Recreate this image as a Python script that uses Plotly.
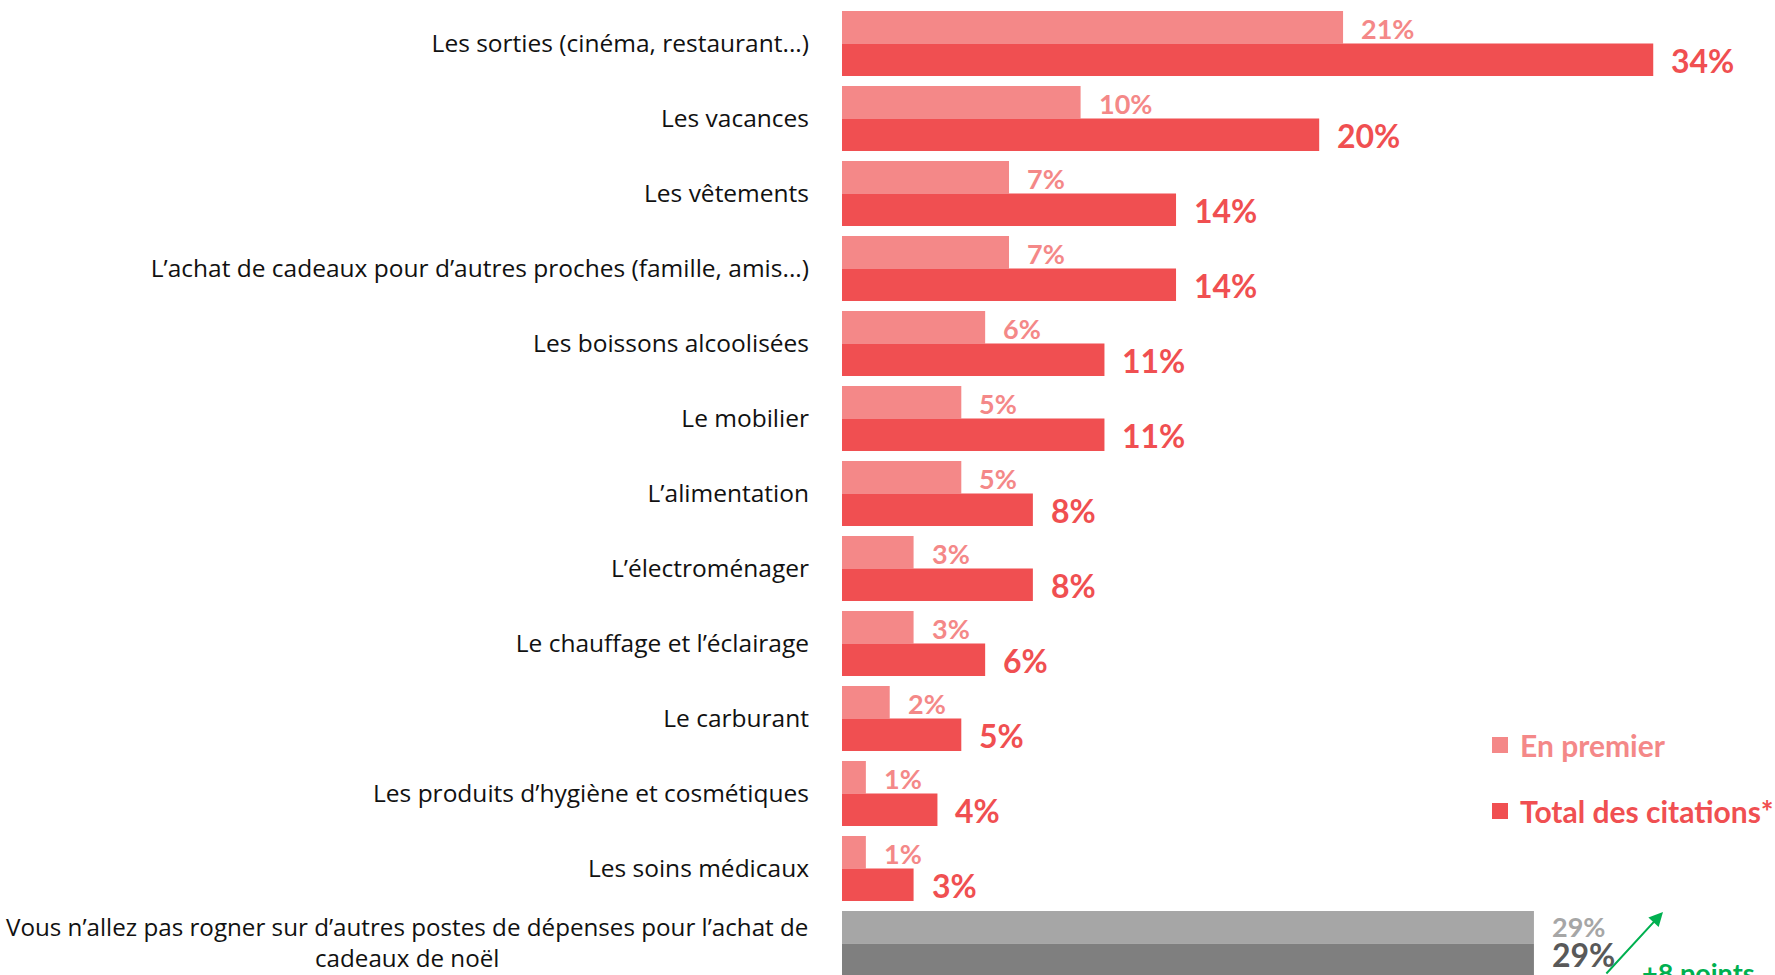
import plotly.graph_objects as go

# Postes de dépenses sur lesquels les Français vont rogner
categories = [
    "Les sorties (cinéma, restaurant...)",
    "Les vacances",
    "Les vêtements",
    "L’achat de cadeaux pour d’autres proches (famille, amis...)",
    "Les boissons alcoolisées",
    "Le mobilier",
    "L’alimentation",
    "L’électroménager",
    "Le chauffage et l’éclairage",
    "Le carburant",
    "Les produits d’hygiène et cosmétiques",
    "Les soins médicaux",
    "Vous n’allez pas rogner sur d’autres postes de dépenses pour l’achat de<br>cadeaux de noël",
]
en_premier = [21, 10, 7, 7, 6, 5, 5, 3, 3, 2, 1, 1, 29]
total_citations = [34, 20, 14, 14, 11, 11, 8, 8, 6, 5, 4, 3, 29]
series_names = ["En premier", "Total des citations*"]

LIGHT_RED = "#F48888"
DARK_RED = "#F04F51"
LIGHT_GREY = "#A6A6A6"
DARK_GREY = "#7F7F7F"
DARK_GREY_TXT = "#595959"
GREEN = "#00B050"
LABEL_FONT = "Open Sans"
LABEL_SIZE = 24.5

W, H = 1775, 975
LEFT = 842
PX_PER_PCT = 23.86

n = len(categories)
light_colors = [LIGHT_RED] * (n - 1) + [LIGHT_GREY]
dark_colors = [DARK_RED] * (n - 1) + [DARK_GREY]
light_txt = [LIGHT_RED] * (n - 1) + [LIGHT_GREY]
dark_txt = [DARK_RED] * (n - 1) + [DARK_GREY_TXT]
# vertical offsets of the value labels (the last, grey row sits a bit higher)
light_shift = [15] * (n - 1) + [17]
dark_shift = [-17] * (n - 1) + [-11]

fig = go.Figure()
fig.add_trace(go.Bar(
    y=categories, x=en_premier, orientation="h", name=series_names[0],
    marker=dict(color=light_colors, line=dict(width=0)), showlegend=False,
))
fig.add_trace(go.Bar(
    y=categories, x=total_citations, orientation="h", name=series_names[1],
    marker=dict(color=dark_colors, line=dict(width=0)), showlegend=False,
))

# Legend entries with large square swatches, one legend per series
for name, color, leg in [(series_names[0], LIGHT_RED, "legend"),
                         (series_names[1], DARK_RED, "legend2")]:
    fig.add_trace(go.Scatter(
        x=[None], y=[None], mode="markers", name=name, legend=leg,
        marker=dict(symbol="square", size=18, color=color),
    ))

annotations = []
for i, cat in enumerate(categories):
    annotations.append(dict(
        x=en_premier[i], y=cat, xref="x", yref="y", text=f"{en_premier[i]}%",
        showarrow=False, xanchor="left", yanchor="middle", xshift=16,
        yshift=light_shift[i],
        font=dict(family="Lato", size=27, color=light_txt[i], weight="bold"),
    ))
    annotations.append(dict(
        x=total_citations[i], y=cat, xref="x", yref="y", text=f"{total_citations[i]}%",
        showarrow=False, xanchor="left", yanchor="middle", xshift=16,
        yshift=dark_shift[i],
        font=dict(family="Lato", size=32, color=dark_txt[i], weight="bold"),
    ))

# Two-line label of the last row, centred
annotations.append(dict(
    x=0, y=categories[-1], xref="x", yref="y", text=categories[-1],
    showarrow=False, xanchor="right", yanchor="middle", xshift=-32, yshift=2,
    align="center", font=dict(family=LABEL_FONT, size=24.2, color="#111111"),
))

# Evolution arrow and note
plot_w = W - LEFT
annotations.append(dict(
    x=(1663 - LEFT) / plot_w, y=(H - 912) / H, xref="paper", yref="paper",
    ax=-58, ay=70, axref="pixel", ayref="pixel", text="",
    showarrow=True, arrowhead=2, arrowsize=1.4, arrowwidth=2, arrowcolor=GREEN,
))
annotations.append(dict(
    x=(1640 - LEFT) / plot_w, y=(H - 954) / H, xref="paper", yref="paper",
    text="+8 points", showarrow=False, xanchor="left", yanchor="top",
    font=dict(family="Lato", size=27, color=GREEN, weight="bold"),
))

ticktext = list(categories[:-1]) + [""]

legend_common = dict(
    xanchor="left", yanchor="middle", bgcolor="rgba(0,0,0,0)",
    itemwidth=30, tracegroupgap=0,
)

fig.update_layout(
    width=W, height=H,
    margin=dict(l=LEFT, r=0, t=0, b=0, pad=0, autoexpand=False),
    paper_bgcolor="white", plot_bgcolor="white",
    barmode="group", bargap=10 / 75, bargroupgap=0,
    showlegend=True,
    legend=dict(
        x=(1480 - LEFT) / plot_w, y=(H - 745) / H,
        font=dict(family="Lato", size=30, color=LIGHT_RED, weight="bold"),
        **legend_common,
    ),
    legend2=dict(
        x=(1480 - LEFT) / plot_w, y=(H - 811) / H,
        font=dict(family="Lato", size=30, color=DARK_RED, weight="bold"),
        **legend_common,
    ),
    xaxis=dict(range=[0, plot_w / PX_PER_PCT], visible=False, fixedrange=True),
    yaxis=dict(
        type="category", range=[(H - 43.5) / 75, -43.5 / 75],
        tickmode="array", tickvals=categories, ticktext=ticktext,
        ticks="", showline=False, showgrid=False, zeroline=False,
        ticklabelstandoff=32,
        tickfont=dict(family=LABEL_FONT, size=LABEL_SIZE, color="#111111"),
    ),
    annotations=annotations,
)

fig.write_html("out.html")
